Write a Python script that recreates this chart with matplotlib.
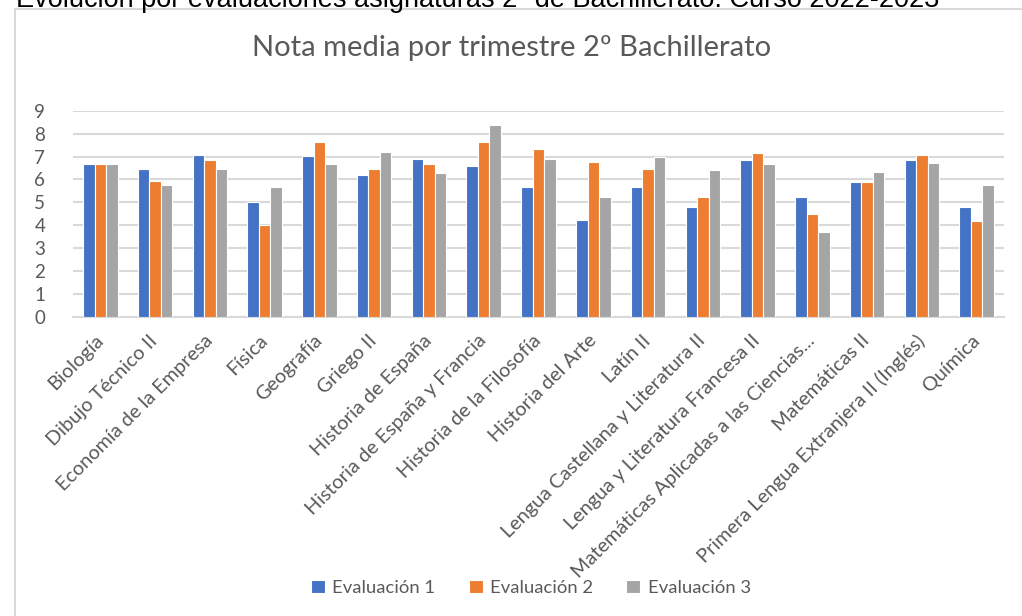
import numpy as np
import matplotlib
matplotlib.use("Agg")
import matplotlib.pyplot as plt
from matplotlib.patches import Rectangle

asignaturas = [
    "Biología", "Dibujo Técnico II", "Economía de la Empresa", "Física",
    "Geografía", "Griego II", "Historia de España", "Historia de España y Francia",
    "Historia de la Filosofía", "Historia del Arte", "Latín II",
    "Lengua Castellana y Literatura II", "Lengua y Literatura Francesa II",
    "Matemáticas Aplicadas a las Ciencias...", "Matemáticas II",
    "Primera Lengua Extranjera II (Inglés)", "Química",
]
evaluacion_1 = [6.68, 6.47, 7.08, 5.02, 7.02, 6.18, 6.88, 6.57, 5.67, 4.21, 5.67,
                4.82, 6.84, 5.22, 5.88, 6.84, 4.82]
evaluacion_2 = [6.68, 5.94, 6.84, 4.02, 7.63, 6.47, 6.68, 7.63, 7.33, 6.78, 6.47,
                5.22, 7.14, 4.51, 5.88, 7.08, 4.17]
evaluacion_3 = [6.68, 5.78, 6.47, 5.67, 6.68, 7.18, 6.28, 8.39, 6.88, 5.22, 6.98,
                6.43, 6.68, 3.72, 6.33, 6.73, 5.78]
series_labels = ["Evaluación 1", "Evaluación 2", "Evaluación 3"]

colors = ["#4472C4", "#ED7D31", "#A5A5A5"]
text_color = "#595959"
grid_color = "#D9D9D9"
W, H = 1022, 616

plt.rcParams["font.family"] = ["Lato", "DejaVu Sans"]

fig = plt.figure(figsize=(W / 100, H / 100), dpi=100)

# chart frame (runs off the right and bottom edges), kept behind the axes
fig.patches.append(Rectangle((15 / W, -0.1), 1.2, 1 - 9 / H + 0.1, transform=fig.transFigure,
                             facecolor="white", edgecolor=grid_color, linewidth=1.5, zorder=-5))

# header text, cut off at the top like in the screenshot
fig.text(16 / W, 1 - 7 / H, "Evolución por evaluaciones asignaturas 2º de Bachillerato. Curso 2022-2023",
         family="Liberation Sans", fontsize=19.5, color="black", ha="left", va="baseline")

ax = fig.add_axes([73 / W, 1 - 317 / H, (1004 - 73) / W, (317 - 110.7) / H])
ax.set_facecolor("none")
ax.set_zorder(2)

x = np.arange(len(asignaturas))
bar_w = 0.21
for i, (vals, lab) in enumerate(zip([evaluacion_1, evaluacion_2, evaluacion_3], series_labels)):
    ax.bar(x + (i - 1) * bar_w, vals, width=bar_w, color=colors[i], label=lab,
           edgecolor="white", linewidth=0.8, zorder=3)

ax.set_xlim(-0.5, len(asignaturas) - 0.5)
ax.set_ylim(0, 9)
ax.set_yticks(range(0, 10))
ax.grid(axis="y", color=grid_color, linewidth=1.5, zorder=0)
for s in ["top", "right", "left"]:
    ax.spines[s].set_visible(False)
ax.spines["bottom"].set_color(grid_color)
ax.spines["bottom"].set_linewidth(1.5)
ax.tick_params(axis="both", length=0, colors=text_color)
ax.tick_params(axis="y", pad=20, labelsize=13.5)
ax.set_xticks(x)
ax.set_xticklabels(asignaturas, rotation=45, ha="right", va="center", rotation_mode="anchor")
ax.tick_params(axis="x", pad=15, labelsize=14.3)

fig.text(512 / W, 1 - 48 / H, "Nota media por trimestre 2º Bachillerato",
         fontsize=21, color=text_color, ha="center", va="center")

fig.legend(loc="center", bbox_to_anchor=(531 / W, 1 - 588 / H), ncol=3, frameon=False,
           fontsize=13.3, labelcolor=text_color, handlelength=0.75, handleheight=0.75,
           handletextpad=0.4, columnspacing=1.8)

fig.savefig("out.png", dpi=100)
